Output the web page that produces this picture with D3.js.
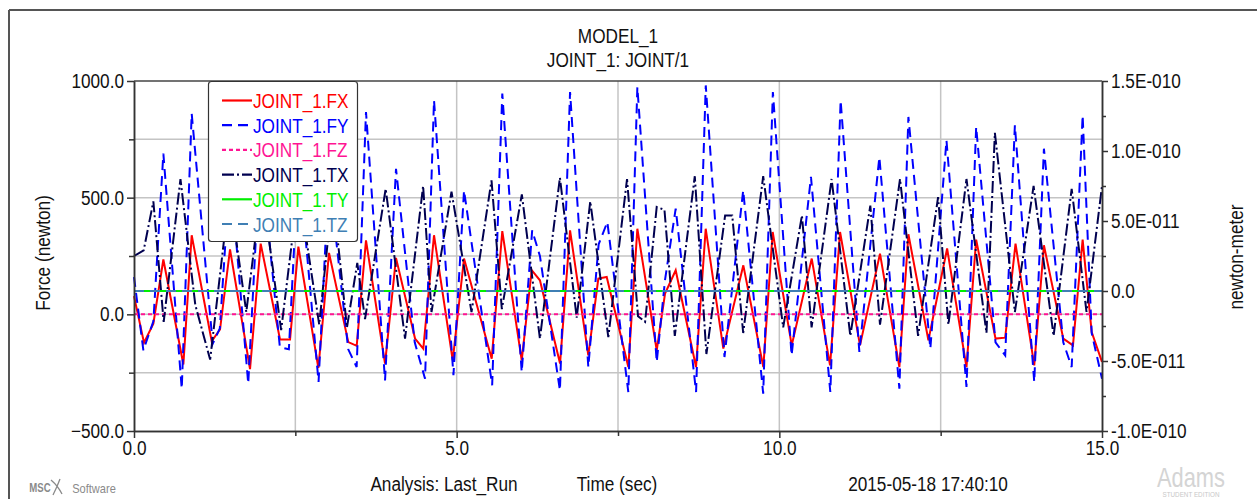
<!DOCTYPE html>
<html>
<head>
<meta charset="utf-8">
<script src="https://cdn.jsdelivr.net/npm/d3@7/dist/d3.min.js"></script>
<style>
  html, body { margin: 0; padding: 0; background: #fff; }
  svg { display: block; }
  text { font-family: "Liberation Sans", Arial, sans-serif; }
</style>
</head>
<body>
<svg id="chart" width="1257" height="499"></svg>
<script>
// ---- data: joint reaction forces (newton) and torques (newton-meter) vs time (sec) ----
const fxTime = [0.00, 0.155, 0.30, 0.455, 0.765, 0.894, 1.204, 1.333, 1.488, 1.798, 1.963, 2.263, 2.418, 2.547, 2.857,
  3.022, 3.321, 3.451, 3.595, 3.890, 4.060, 4.355, 4.483, 4.649, 4.939, 5.114, 5.543, 5.707, 6.008, 6.163, 6.290,
  6.602, 6.757, 7.040, 7.195, 7.325, 7.660, 7.800, 8.100, 8.229, 8.394, 8.709, 8.859, 9.132, 9.442, 9.752, 9.897,
  10.192, 10.502, 10.786, 10.941, 11.25, 11.56, 11.86, 12.00, 12.31, 12.60, 12.90, 13.05, 13.35, 13.50, 13.66,
  13.95, 14.10, 14.40, 14.55, 14.70, 14.84, 15.00];
const fxForce = [78, -122, -40, 235, -215, 339, -115, -65, 278, -235, 303, -108, -108, 290, -230,
  263, -119, -135, 317, -211, 242, -104, -147, 339, -197, 239, -190, 357, -197, 189, 146,
  -211, 360, -176, 153, 160, -226, 367, -154, 89, 189, -226, 367, -147, 210, -226, 353,
  -133, 239, -219, 353, -133, 260, -226, 343, -111, 282, -226, 320, -104, -100, 303,
  -219, 296, -104, -133, 320, -76, -204];

const fyTime = [0.00, 0.145, 0.30, 0.455, 0.74, 0.894, 1.22, 1.33, 1.49, 1.77, 1.96, 2.26, 2.40, 2.55, 2.86,
  3.02, 3.32, 3.45, 3.595, 3.89, 4.06, 4.35, 4.51, 4.649, 4.95, 5.114, 5.55, 5.707, 6.008, 6.17, 6.29,
  6.60, 6.757, 7.04, 7.20, 7.335, 7.66, 7.80, 8.10, 8.23, 8.394, 8.71, 8.86, 9.15, 9.44, 9.75, 9.90,
  10.19, 10.49, 10.79, 10.95, 11.24, 11.55, 11.86, 12.00, 12.34, 12.59, 12.90, 13.05, 13.35, 13.50, 13.65,
  13.95, 14.10, 14.40, 14.53, 14.70, 14.84, 15.00];
const fyForce = [160, -154, -30, 689, -319, 860, -126, -60, 620, -297, 700, -140, -150, 660, -290,
  600, -150, -226, 867, -283, 624, -120, -276, 917, -261, 531, -304, 946, -247, 360, 250,
  -326, 953, -226, 300, 396, -333, 974, -204, 150, 453, -333, 981, -183, 531, -340, 953,
  -176, 589, -333, 917, -161, 674, -319, 846, -147, 746, -311, 803, -120, -176, 810,
  -290, 710, -120, -226, 853, -80, -276];

const fzTime = [0, 15];
const fzForce = [0, 0];

const txTime = [0.00, 0.15, 0.30, 0.46, 0.72, 0.95, 1.18, 1.48, 1.74, 1.98, 2.28, 2.55, 2.87, 3.08, 3.30, 3.46, 3.58,
  3.90, 4.20, 4.48, 4.61, 4.92, 5.23, 5.54, 5.70, 6.01, 6.29, 6.60, 6.86, 7.07, 7.35, 7.64, 7.81, 7.92,
  8.10, 8.22, 8.38, 8.69, 8.87, 9.16, 9.27, 9.44, 9.75, 10.06, 10.35, 10.50, 10.81, 11.10, 11.41, 11.56,
  11.87, 12.15, 12.46, 12.62, 12.90, 13.21, 13.34, 13.65, 13.94, 14.25, 14.53, 14.76, 15.00];
const txTorque = [2.5e-11, 2.9e-11, 6.4e-11, -2.2e-11, 8.0e-11, -1.0e-11, -4.9e-11, 7.0e-11, -1.5e-11, 7.5e-11,
  -2.8e-11, 7.4e-11, -2.4e-11, 7.0e-11, -2.6e-11, 2.0e-11, -2.0e-11,
  7.3e-11, -3.4e-11, 7.5e-11, -1.5e-11, 7.1e-11, -1.5e-11, 7.9e-11, -1.3e-11, 6.9e-11, -3.4e-11, 8.1e-11,
  -1.9e-11, 6.4e-11, -3.3e-11, 8.0e-11, -1.8e-11, -2.2e-11,
  6.0e-11, 5.8e-11, -3.2e-11, 8.2e-11, -4.5e-11, 5.4e-11, 5.4e-11, -3.0e-11, 8.2e-11, -2.6e-11, 5.4e-11,
  -2.6e-11, 8.0e-11, -3.2e-11, 6.1e-11, -2.4e-11,
  8.0e-11, -3.2e-11, 6.7e-11, -2.4e-11, 8.0e-11, -3.0e-11, 11.3e-11, -1.5e-11, 7.5e-11, -3.2e-11, 7.3e-11,
  -1.5e-11, 7.5e-11];

const tyTime = [0, 15];
const tyTorque = [0, 0];
const tzTime = [0, 15];
const tzTorque = [0, 0];

// ---- axis ticks and labels ----
const timeTicks = [0, 5, 10, 15];
const timeMinorTicks = [2.5, 7.5, 12.5];
const forceTicks = [-500, 0, 500, 1000];
const forceMinorTicks = [-250, 250, 750];
const torqueTicks = [-1.0e-10, -5.0e-11, 0, 5.0e-11, 1.0e-10, 1.5e-10];
const torqueTickLabels = ["-1.0E-010", "-5.0E-011", "0.0", "5.0E-011", "1.0E-010", "1.5E-010"];
const torqueMinorTicks = [-7.5e-11, -2.5e-11, 2.5e-11, 7.5e-11, 1.25e-10];
const gridForce = [-250, 0, 250, 500, 750];
const gridTime = [2.5, 5, 7.5, 10, 12.5];

const seriesNames = ["JOINT_1.FX", "JOINT_1.FY", "JOINT_1.FZ", "JOINT_1.TX", "JOINT_1.TY", "JOINT_1.TZ"];
const seriesColors = ["#ff0000", "#0000ff", "#ff1493", "#000050", "#00ee00", "#3f7fb4"];
const seriesDash = [null, "10,6", "4,3", "12,3,2,3", null, "10,6"];

// ---- layout ----
const svg = d3.select("#chart");
const plot = { left: 134, right: 1102, top: 81, bottom: 431 };

const x = d3.scaleLinear().domain([0, 15]).range([plot.left, plot.right]);
const yForce = d3.scaleLinear().domain([-500, 1000]).range([plot.bottom, plot.top]);
const yTorque = d3.scaleLinear().domain([-1.0e-10, 1.5e-10]).range([plot.bottom, plot.top]);

const FONT = 20;
const SQUEEZE = 0.86;
function condense(sel, k = SQUEEZE) {
  sel.each(function () {
    const w = this.getComputedTextLength();
    if (w > 0) d3.select(this).attr("textLength", w * k).attr("lengthAdjust", "spacingAndGlyphs");
  });
}

// outer frame
svg.append("line").attr("x1", 9).attr("x2", 1257).attr("y1", 10).attr("y2", 10)
  .attr("stroke", "#555").attr("stroke-width", 2);
svg.append("line").attr("x1", 9).attr("x2", 9).attr("y1", 10).attr("y2", 499)
  .attr("stroke", "#555").attr("stroke-width", 2);

// grid
const grid = svg.append("g");
grid.selectAll("line.h").data(gridForce).join("line")
  .attr("x1", plot.left).attr("x2", plot.right)
  .attr("y1", d => yForce(d)).attr("y2", d => yForce(d))
  .attr("stroke", "#c4c4c4").attr("stroke-width", 1.5);
grid.selectAll("line.v").data(gridTime).join("line")
  .attr("y1", plot.top).attr("y2", plot.bottom)
  .attr("x1", d => x(d)).attr("x2", d => x(d))
  .attr("stroke", "#c4c4c4").attr("stroke-width", 1.5);

// top border of plot area
svg.append("line").attr("x1", plot.left).attr("x2", plot.right)
  .attr("y1", plot.top).attr("y2", plot.top).attr("stroke", "#444").attr("stroke-width", 1.5);

// curves
function series(times, values, yScale) {
  return d3.zip(times, values).map(([t, v]) => [x(t), yScale(v)]);
}
const curves = [
  series(fxTime, fxForce, yForce),
  series(fyTime, fyForce, yForce),
  series(fzTime, fzForce, yForce),
  series(txTime, txTorque, yTorque),
  series(tyTime, tyTorque, yTorque),
  series(tzTime, tzTorque, yTorque)
];
const lineGen = d3.line();
const curveG = svg.append("g");
curves.forEach((pts, i) => {
  curveG.append("path")
    .attr("d", lineGen(pts))
    .attr("fill", "none")
    .attr("stroke", seriesColors[i])
    .attr("stroke-width", 2)
    .attr("stroke-dasharray", seriesDash[i]);
});

// axes
function styleAxis(g) {
  g.select(".domain").attr("stroke", "#333").attr("stroke-width", 1.5);
  g.selectAll(".tick line").attr("stroke", "#333").attr("stroke-width", 1.5);
  g.selectAll(".tick text").attr("font-size", FONT).style("fill", "#111")
    .attr("font-family", "'Liberation Sans', Arial, sans-serif");
}

const xAxis = svg.append("g").attr("transform", `translate(0,${plot.bottom})`)
  .call(d3.axisBottom(x).tickValues(timeTicks).tickFormat(d3.format(".1f")).tickSize(7).tickSizeOuter(0).tickPadding(3));
styleAxis(xAxis);
const xMinor = svg.append("g").attr("transform", `translate(0,${plot.bottom})`)
  .call(d3.axisBottom(x).tickValues(timeMinorTicks).tickFormat("").tickSize(5).tickSizeOuter(0));
styleAxis(xMinor);

const yAxisL = svg.append("g").attr("transform", `translate(${plot.left},0)`)
  .call(d3.axisLeft(yForce).tickValues(forceTicks).tickFormat(d3.format(".1f")).tickSize(7).tickSizeOuter(0).tickPadding(3));
styleAxis(yAxisL);
const yMinorL = svg.append("g").attr("transform", `translate(${plot.left},0)`)
  .call(d3.axisLeft(yForce).tickValues(forceMinorTicks).tickFormat("").tickSize(5).tickSizeOuter(0));
styleAxis(yMinorL);

const yAxisR = svg.append("g").attr("transform", `translate(${plot.right},0)`)
  .call(d3.axisRight(yTorque).tickValues(torqueTicks).tickFormat((d, i) => torqueTickLabels[i]).tickSize(6).tickSizeOuter(0).tickPadding(3));
styleAxis(yAxisR);
const yMinorR = svg.append("g").attr("transform", `translate(${plot.right},0)`)
  .call(d3.axisRight(yTorque).tickValues(torqueMinorTicks).tickFormat("").tickSize(4).tickSizeOuter(0));
styleAxis(yMinorR);

condense(svg.selectAll(".tick text"));

// titles
function label(txt, px, py, opts = {}) {
  const t = svg.append("text").attr("x", px).attr("y", py)
    .attr("font-size", opts.size || FONT)
    .attr("text-anchor", opts.anchor || "middle")
    .style("fill", opts.fill || "#111")
    .text(txt);
  if (opts.rotate) t.attr("transform", `rotate(${opts.rotate},${px},${py})`);
  if (opts.weight) t.attr("font-weight", opts.weight);
  condense(t, opts.squeeze || SQUEEZE);
  return t;
}
label("MODEL_1", 618, 43);
label("JOINT_1: JOINT/1", 618, 67);
label("Force (newton)", 50, 253, { rotate: -90 });
label("newton-meter", 1243, 257, { rotate: -90 });
label("Analysis:  Last_Run", 444, 491);
label("Time (sec)", 617, 491);
label("2015-05-18 17:40:10", 928, 491);

// legend
const legend = svg.append("g");
legend.append("rect").attr("x", 208.5).attr("y", 81.5).attr("width", 149).attr("height", 160)
  .attr("rx", 3).attr("fill", "#fff").attr("stroke", "#333").attr("stroke-width", 1.2);
seriesNames.forEach((name, i) => {
  const base = 108 + i * 24.7;
  legend.append("line").attr("x1", 222).attr("x2", 252).attr("y1", base - 7.5).attr("y2", base - 7.5)
    .attr("stroke", seriesColors[i]).attr("stroke-width", 2.2)
    .attr("stroke-dasharray", seriesDash[i]);
  const t = legend.append("text").attr("x", 253).attr("y", base)
    .attr("font-size", FONT).style("fill", seriesColors[i]).text(name);
  condense(t);
});

// logos
const msc = svg.append("g");
label("MSC", 40, 492, { size: 12, fill: "#8a8a8a", weight: "bold", squeeze: 0.8 });
msc.append("path").attr("d", "M51,480 Q58,486 62,494 M60,479 Q57,487 53,495")
  .attr("fill", "none").attr("stroke", "#8a8a8a").attr("stroke-width", 1.3);
label("Software", 94, 493, { size: 13, fill: "#8a8a8a", squeeze: 0.85 });
label("Adams", 1191, 487, { size: 28, fill: "#d4d4d4", squeeze: 0.78 });
label("STUDENT EDITION", 1191, 497, { size: 7, fill: "#c8c8c8", squeeze: 0.9 });
</script>
</body>
</html>
